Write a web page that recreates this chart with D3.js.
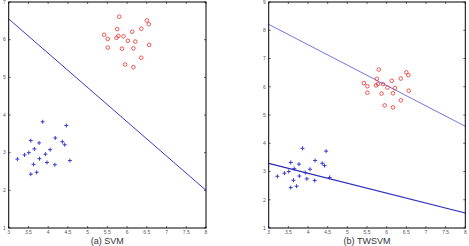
<!DOCTYPE html>
<html>
<head>
<script src="https://cdn.jsdelivr.net/npm/d3@7"></script>
<style>
body { margin: 0; background: #fff; }
text { font-family: "Liberation Sans", Arial, sans-serif; }
.tick-label { font-size: 5px; fill: #555; }
.title { font-size: 9px; fill: #333; }
</style>
</head>
<body>
<svg width="469" height="246"></svg>
<script>
// class +1 (red circles)
const redX = [5.80, 6.50, 6.55, 5.75, 6.36, 6.13, 5.42, 5.78, 5.73, 5.91, 5.51, 6.02, 6.21, 6.56, 5.51, 5.87, 6.16, 6.36, 5.95, 6.16];
const redY = [6.61, 6.51, 6.41, 6.28, 6.29, 6.21, 6.13, 6.10, 6.05, 6.09, 6.02, 5.97, 5.95, 5.86, 5.79, 5.76, 5.77, 5.52, 5.34, 5.27];
// class -1 (blue pluses)
const blueX = [3.86, 4.46, 4.18, 3.56, 4.36, 3.77, 4.42, 3.65, 4.05, 3.51, 3.40, 3.93, 3.22, 3.78, 4.55, 3.63, 3.97, 4.17, 3.71, 3.56];
const blueY = [3.82, 3.72, 3.39, 3.32, 3.29, 3.26, 3.21, 3.10, 3.08, 3.00, 2.94, 2.96, 2.83, 2.84, 2.79, 2.69, 2.74, 2.68, 2.48, 2.43];

const xTicks = [3, 3.5, 4, 4.5, 5, 5.5, 6, 6.5, 7, 7.5, 8];
const yTicksA = [1, 2, 3, 4, 5, 6, 7];
const yTicksB = [1, 2, 3, 4, 5, 6, 7, 8, 9];

// lines as [x0, y0, x1, y1]
const svmLine = [3, 6.55, 8, 2.0];
const twUpper = [3, 8.21, 8, 4.60];
const twLower = [3, 3.29, 8, 1.53];

const svg = d3.select('svg');
const plotTop = 2, plotBottom = 228;

function panel(left, right, yTicks, yMax, lines, title) {
  const x = d3.scaleLinear().domain([3, 8]).range([left, right]);
  const y = d3.scaleLinear().domain([1, yMax]).range([plotBottom, plotTop]);
  const g = svg.append('g');

  // ticks (inward, all four sides)
  xTicks.forEach(t => {
    g.append('line').attr('x1', x(t)).attr('x2', x(t)).attr('y1', plotBottom).attr('y2', plotBottom - 2).attr('stroke', '#000').attr('stroke-width', 0.6);
    g.append('line').attr('x1', x(t)).attr('x2', x(t)).attr('y1', plotTop).attr('y2', plotTop + 2).attr('stroke', '#000').attr('stroke-width', 0.6);
    g.append('text').attr('class', 'tick-label').attr('x', x(t)).attr('y', plotBottom + 6).attr('text-anchor', 'middle').text(t);
  });
  yTicks.forEach(t => {
    g.append('line').attr('x1', left).attr('x2', left + 2).attr('y1', y(t)).attr('y2', y(t)).attr('stroke', '#000').attr('stroke-width', 0.6);
    g.append('line').attr('x1', right).attr('x2', right - 2).attr('y1', y(t)).attr('y2', y(t)).attr('stroke', '#000').attr('stroke-width', 0.6);
    g.append('text').attr('class', 'tick-label').attr('x', left - 3).attr('y', y(t) + 1.8).attr('text-anchor', 'end').text(t);
  });

  lines.forEach(l => {
    g.append('line')
      .attr('x1', x(l.c[0])).attr('y1', y(l.c[1]))
      .attr('x2', x(l.c[2])).attr('y2', y(l.c[3]))
      .attr('stroke', l.color).attr('stroke-width', l.w);
  });

  g.selectAll('.red').data(redX).enter().append('circle')
    .attr('cx', d => x(d))
    .attr('cy', (d, i) => y(redY[i]))
    .attr('r', 1.8)
    .attr('fill', 'none')
    .attr('stroke', '#e8302c')
    .attr('stroke-width', 0.8);

  const plus = g.selectAll('.blue').data(blueX).enter().append('g')
    .attr('transform', (d, i) => `translate(${x(d)},${y(blueY[i])})`);
  plus.append('line').attr('x1', -2).attr('x2', 2).attr('stroke', '#2a2ac8').attr('stroke-width', 0.9);
  plus.append('line').attr('y1', -2).attr('y2', 2).attr('stroke', '#2a2ac8').attr('stroke-width', 0.9);

  g.append('rect').attr('x', left).attr('y', plotTop).attr('width', right - left).attr('height', plotBottom - plotTop)
    .attr('fill', 'none').attr('stroke', '#000').attr('stroke-width', 1);

  g.append('text').attr('class', 'title').attr('x', (left + right) / 2).attr('y', 244)
    .attr('text-anchor', 'middle').text(title);
}

panel(8.7, 206, yTicksA, 7, [{ c: svmLine, color: '#3a3acc', w: 1 }], '(a) SVM');
panel(268.7, 465.3, yTicksB, 9, [
  { c: twUpper, color: '#5050dd', w: 0.8 },
  { c: twLower, color: '#2a2ab8', w: 1.2 }
], '(b) TWSVM');
</script>
</body>
</html>
